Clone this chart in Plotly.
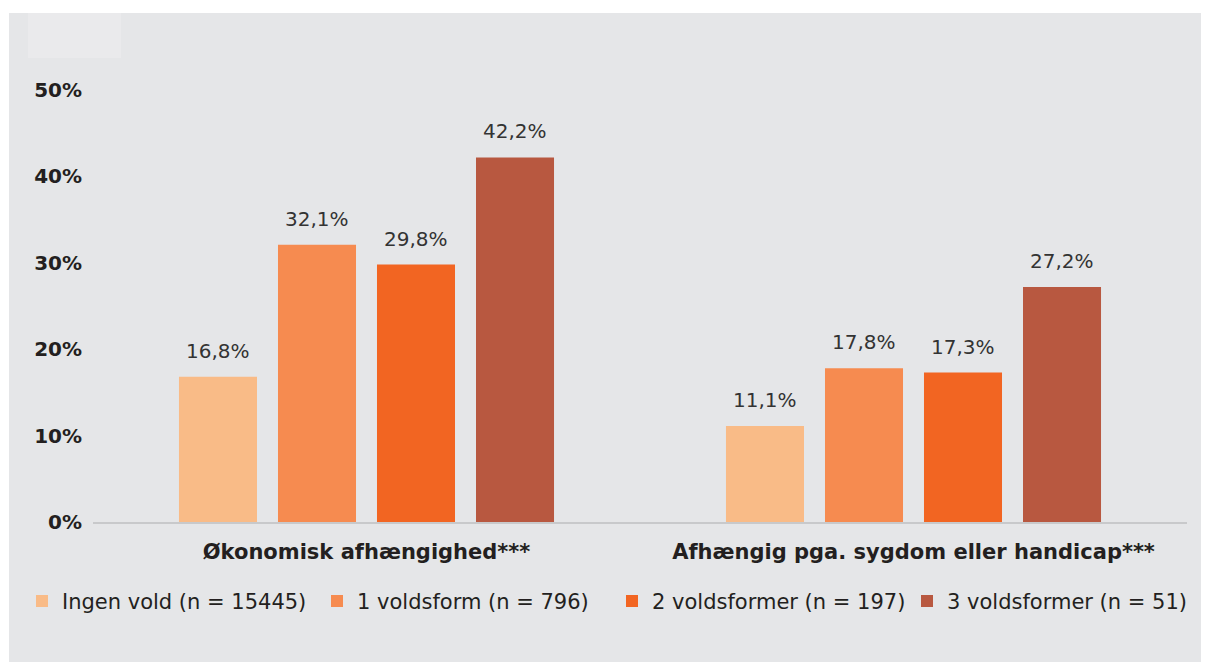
import plotly.graph_objects as go

categories = ["Økonomisk afhængighed***", "Afhængig pga. sygdom eller handicap***"]
series_names = ["Ingen vold (n = 15445)", "1 voldsform (n = 796)",
                "2 voldsformer (n = 197)", "3 voldsformer (n = 51)"]
series_values = [
    [16.8, 11.1],
    [32.1, 17.8],
    [29.8, 17.3],
    [42.2, 27.2],
]
series_colors = ["#f9bb87", "#f68b50", "#f26522", "#b85840"]
y_tick_vals = [0, 10, 20, 30, 40, 50]
y_tick_text = ["0%", "10%", "20%", "30%", "40%", "50%"]

FONT = "DejaVu Sans"
OFF = 8  # page body margin
W, H = 1209, 662
PL, PT, PW, PH = 93, 90, 1094, 432  # plot area in page pixels
BARGAP, BARGROUPGAP = 0.276, 0.212

fig = go.Figure()
for name, vals, col in zip(series_names, series_values, series_colors):
    fig.add_trace(go.Bar(
        name=name, x=categories, y=vals,
        marker=dict(color=col, line=dict(width=0)),
    ))

# value labels above bars
n = len(series_values)
slot = PW / len(categories) * (1 - BARGAP) / n
for i, vals in enumerate(series_values):
    for cat, v in zip(categories, vals):
        fig.add_annotation(x=cat, y=v, xref="x", yref="y",
                           text=f"{v:.1f}%".replace(".", ","),
                           showarrow=False, yanchor="bottom", xanchor="center",
                           xshift=(i - (n - 1) / 2) * slot, yshift=12,
                           font=dict(family=FONT, size=20, color="#333333"))

fig.update_layout(
    width=W, height=H,
    paper_bgcolor="#e5e6e8", plot_bgcolor="#e5e6e8",
    margin=dict(l=PL - OFF, r=W - (PL - OFF) - PW, t=PT - OFF, b=H - (PT - OFF) - PH,
                autoexpand=False),
    barmode="group", bargap=BARGAP, bargroupgap=BARGROUPGAP,
    font=dict(family=FONT, color="#231f20"),
    showlegend=True,
    legend=dict(orientation="h", x=(22 - PL) / PW, y=-0.136, xanchor="left", yanchor="top",
                font=dict(family=FONT, size=21, color="#231f20"),
                entrywidth=250, entrywidthmode="pixels",
                bgcolor="rgba(0,0,0,0)", itemclick=False, traceorder="normal"),
    xaxis=dict(showgrid=False, showline=True, linecolor="#c8c9cb", linewidth=2,
               tickfont=dict(family=FONT, size=21, color="#231f20", weight="bold"),
               ticks="", ticklabelstandoff=10),
    yaxis=dict(range=[0, 50], showgrid=False, zeroline=False, showline=False,
               tickvals=y_tick_vals, ticktext=y_tick_text,
               tickfont=dict(family=FONT, size=20, color="#231f20", weight="bold"),
               ticklabelstandoff=10),
)


def py_to_paper(py):
    return (PT + PH - py) / PH


def px_to_paper(px):
    return (px - PL) / PW


# white top strip and the light tab in the corner
fig.add_shape(type="rect", xref="paper", yref="paper", x0=-0.2, x1=1.2,
              y0=py_to_paper(13), y1=1.5, fillcolor="white", line_width=0, layer="below")
fig.add_shape(type="rect", xref="paper", yref="paper", x0=-0.2, x1=px_to_paper(9),
              y0=-0.5, y1=1.5, fillcolor="white", line_width=0, layer="below")
fig.add_shape(type="rect", xref="paper", yref="paper", x0=px_to_paper(28), x1=px_to_paper(121),
              y0=py_to_paper(58), y1=py_to_paper(13), fillcolor="#eaeaec",
              line_width=0, layer="below")

fig.write_html("out.html")
